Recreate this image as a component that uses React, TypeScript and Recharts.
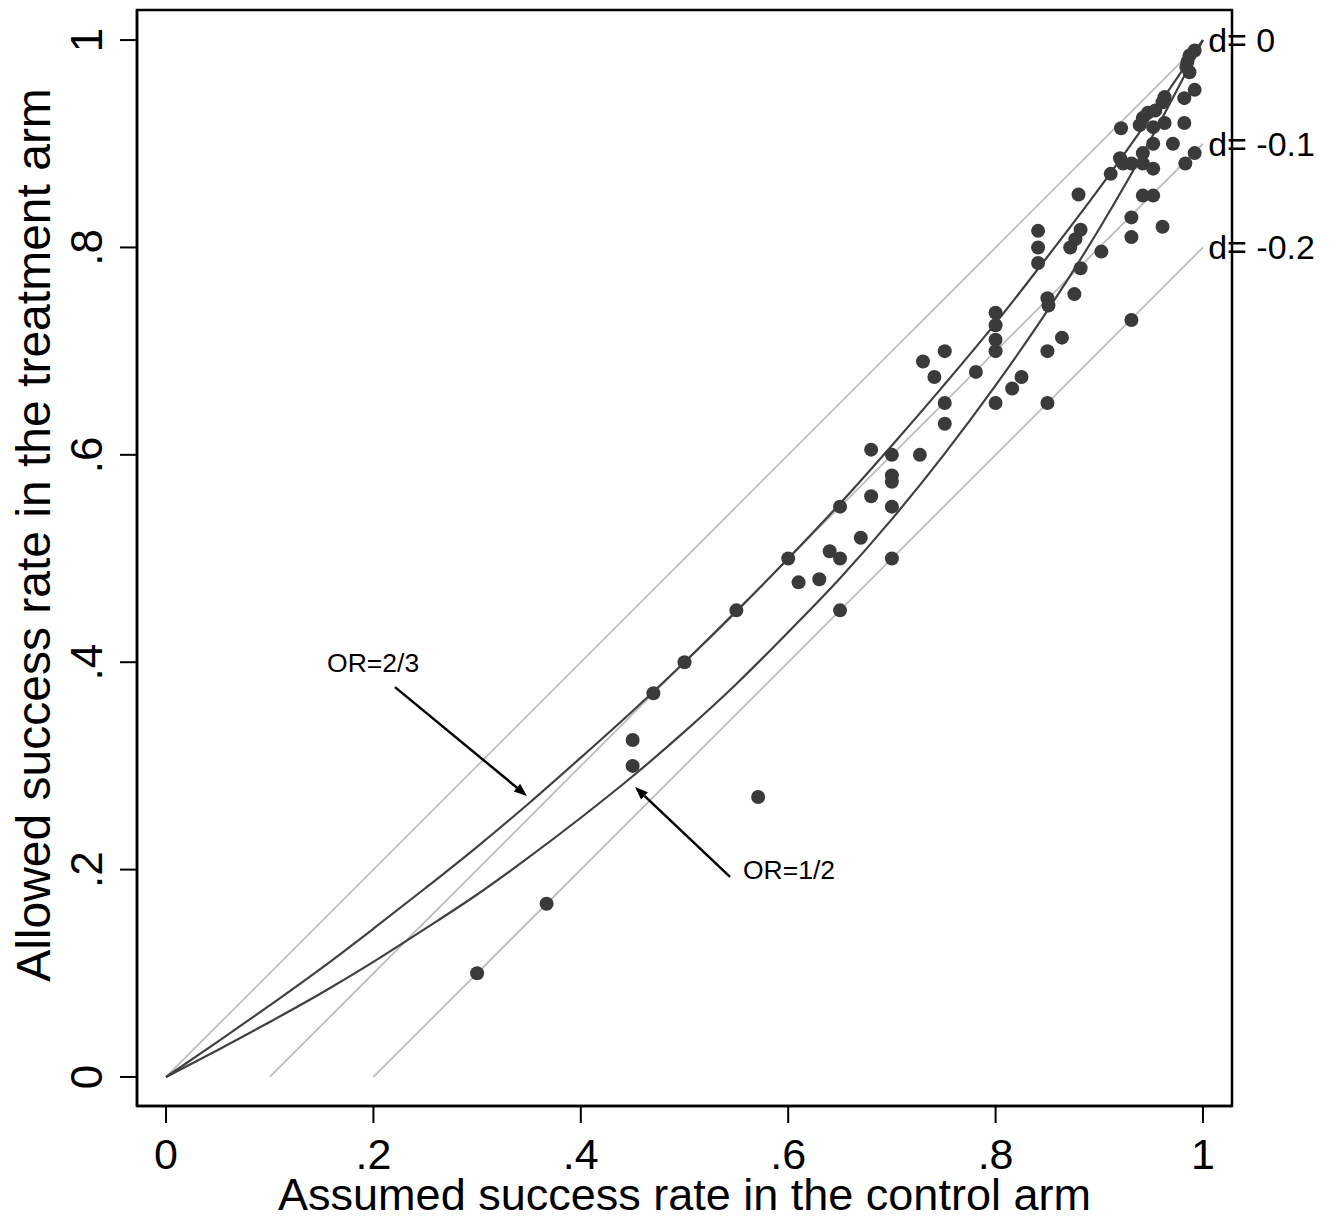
import React from "react";
import {
  ComposedChart,
  Line,
  Scatter,
  XAxis,
  YAxis,
  ReferenceLine,
  ReferenceDot,
  ReferenceArea,
} from "recharts";

// studies: assumed control rate vs allowed treatment rate
const controlRate = [
  0.3, 0.367, 0.45, 0.45, 0.47, 0.5, 0.55, 0.571, 0.6, 0.61, 0.63, 0.64, 0.65, 0.65, 0.65,
  0.67, 0.68, 0.68, 0.7, 0.7, 0.7, 0.7, 0.7, 0.727, 0.73, 0.741, 0.751, 0.751, 0.751, 0.781,
  0.8, 0.8, 0.8, 0.8, 0.8, 0.816, 0.825, 0.841, 0.841, 0.841, 0.85, 0.851, 0.85, 0.85, 0.864,
  0.872, 0.877, 0.876, 0.882, 0.88, 0.882, 0.902, 0.911, 0.921, 0.92, 0.923, 0.931, 0.931,
  0.931, 0.931, 0.939, 0.942, 0.947, 0.954, 0.963, 0.961, 0.952, 0.963, 0.942, 0.942, 0.942,
  0.952, 0.952, 0.952, 0.961, 0.971, 0.982, 0.983, 0.992, 0.992, 0.982, 0.992, 0.987, 0.985,
  0.984, 0.987,
];
const treatRate = [
  0.1, 0.167, 0.3, 0.325, 0.37, 0.4, 0.45, 0.27, 0.5, 0.477, 0.48, 0.507, 0.5, 0.55, 0.45,
  0.52, 0.56, 0.605, 0.6, 0.58, 0.574, 0.55, 0.5, 0.6, 0.69, 0.675, 0.7, 0.65, 0.63, 0.68,
  0.737, 0.725, 0.711, 0.7, 0.65, 0.664, 0.675, 0.816, 0.8, 0.785, 0.751, 0.744, 0.7, 0.65, 0.713,
  0.8, 0.808, 0.755, 0.817, 0.851, 0.78, 0.796, 0.871, 0.915, 0.886, 0.881, 0.73, 0.81,
  0.829, 0.881, 0.918, 0.925, 0.93, 0.932, 0.945, 0.94, 0.916, 0.92, 0.891, 0.881, 0.85,
  0.85, 0.876, 0.9, 0.82, 0.9, 0.92, 0.881, 0.891, 0.952, 0.944, 0.99, 0.985, 0.979,
  0.974, 0.969,
];

// OR curves read at steps of 0.05
const curveX = [
  0, 0.05, 0.1, 0.15, 0.2, 0.25, 0.3, 0.35, 0.4, 0.45, 0.5, 0.55, 0.6, 0.65, 0.7, 0.75, 0.8,
  0.85, 0.9, 0.95, 1,
];
const or23 = [
  0, 0.034, 0.069, 0.105, 0.143, 0.182, 0.222, 0.264, 0.308, 0.353, 0.4, 0.449, 0.5, 0.553,
  0.609, 0.667, 0.727, 0.791, 0.857, 0.927, 1,
];
const or12 = [
  0, 0.026, 0.053, 0.081, 0.111, 0.143, 0.176, 0.212, 0.25, 0.29, 0.333, 0.379, 0.429, 0.481,
  0.538, 0.6, 0.667, 0.739, 0.818, 0.905, 1,
];

// difference lines d = 0, -0.1, -0.2
const diffLabels = ["d= 0", "d= -0.1", "d= -0.2"];
const diffValues = [0, -0.1, -0.2];

const ticks = [0, 0.2, 0.4, 0.6, 0.8, 1];

const scatterData = controlRate.map((x, i) => ({ x, y: treatRate[i] }));
const or23Data = curveX.map((x, i) => ({ x, y: or23[i] }));
const or12Data = curveX.map((x, i) => ({ x, y: or12[i] }));

const FONT = "'Liberation Sans', Arial, Helvetica, sans-serif";

const fmt = (v: number) => (v === 0 ? "0" : v === 1 ? "1" : String(v).replace(/^0/, ""));

const XTick = (props: any) => {
  const { x, y, payload } = props;
  return (
    <text x={x} y={y + 44} textAnchor="middle" fontSize={43} fontFamily={FONT} fill="#000">
      {fmt(payload.value)}
    </text>
  );
};

const YTick = (props: any) => {
  const { x, y, payload } = props;
  const bx = x - 16;
  return (
    <text
      x={bx}
      y={y}
      textAnchor="middle"
      fontSize={44}
      fontFamily={FONT}
      fill="#000"
      transform={`rotate(-90, ${bx}, ${y})`}
    >
      {fmt(payload.value)}
    </text>
  );
};

const arrowShape = (props: any) => {
  const { x1, y1, x2, y2 } = props;
  const ang = Math.atan2(y2 - y1, x2 - x1);
  const len = 13;
  const half = 5;
  const bx = x2 - len * Math.cos(ang);
  const by = y2 - len * Math.sin(ang);
  const px = -Math.sin(ang) * half;
  const py = Math.cos(ang) * half;
  return (
    <g>
      <line x1={x1} y1={y1} x2={bx} y2={by} stroke="#000" strokeWidth={2.5} />
      <polygon
        points={`${x2},${y2} ${bx + px},${by + py} ${bx - px},${by - py}`}
        fill="#000"
      />
    </g>
  );
};

const textShape = (label: string, size: number, dy: number) => (props: any) => (
  <text x={props.cx} y={props.cy + dy} fontSize={size} fontFamily={FONT} fill="#000">
    {label}
  </text>
);

export default function App() {
  return (
    <div style={{ position: "absolute", left: 0, top: 0, background: "#fff" }}>
      <ComposedChart
        width={1336}
        height={1221}
        margin={{ top: 10, right: 104, bottom: 0, left: 0 }}
      >
        <XAxis
          type="number"
          dataKey="x"
          domain={[-0.028, 1.028]}
          ticks={ticks}
          tickSize={17}
          tickLine={{ stroke: "#000", strokeWidth: 2 }}
          axisLine={{ stroke: "#000", strokeWidth: 2.5 }}
          tick={<XTick />}
          height={115}
          allowDataOverflow
          label={{
            content: (p: any) => {
              const vb = p.viewBox || { x: 137, y: 1106, width: 1095 };
              return (
                <text
                  x={vb.x + vb.width / 2}
                  y={vb.y + 104}
                  textAnchor="middle"
                  fontSize={45}
                  fontFamily={FONT}
                  fill="#000"
                >
                  Assumed success rate in the control arm
                </text>
              );
            },
          }}
        />
        <YAxis
          type="number"
          dataKey="y"
          domain={[-0.028, 1.029]}
          ticks={ticks}
          tickSize={17}
          tickLine={{ stroke: "#000", strokeWidth: 2 }}
          axisLine={{ stroke: "#000", strokeWidth: 2.5 }}
          tick={<YTick />}
          width={137}
          allowDataOverflow
          label={{
            content: () => (
              <text
                x={50}
                y={535}
                textAnchor="middle"
                fontSize={48}
                fontFamily={FONT}
                fill="#000"
                transform="rotate(-90, 50, 535)"
              >
                Allowed success rate in the treatment arm
              </text>
            ),
          }}
        />
        <ReferenceArea
          x1={-0.028}
          x2={1.028}
          y1={-0.028}
          y2={1.029}
          fill="none"
          stroke="#000"
          strokeWidth={2.5}
          ifOverflow="visible"
        />
        {diffValues.map((d) => (
          <Line
            key={"d" + d}
            data={[
              { x: -d, y: 0 },
              { x: 1, y: 1 + d },
            ]}
            dataKey="y"
            type="linear"
            stroke="#bdbdbd"
            strokeWidth={1.8}
            dot={false}
            activeDot={false}
            isAnimationActive={false}
          />
        ))}
        <Line
          data={or23Data}
          dataKey="y"
          type="monotone"
          stroke="#404040"
          strokeWidth={2.2}
          dot={false}
          activeDot={false}
          isAnimationActive={false}
        />
        <Line
          data={or12Data}
          dataKey="y"
          type="monotone"
          stroke="#404040"
          strokeWidth={2.2}
          dot={false}
          activeDot={false}
          isAnimationActive={false}
        />
        <Scatter
          data={scatterData}
          dataKey="y"
          isAnimationActive={false}
          shape={(p: any) => <circle cx={p.cx} cy={p.cy} r={7} fill="#3a3a3a" />}
        />
        <ReferenceLine
          segment={[
            { x: 0.2208, y: 0.376 },
            { x: 0.3481, y: 0.271 },
          ]}
          ifOverflow="visible"
          shape={arrowShape}
        />
        <ReferenceLine
          segment={[
            { x: 0.5439, y: 0.1929 },
            { x: 0.4523, y: 0.2797 },
          ]}
          ifOverflow="visible"
          shape={arrowShape}
        />
        <ReferenceDot
          x={0.1553}
          y={0.3905}
          ifOverflow="visible"
          shape={textShape("OR=2/3", 26.5, 0)}
        />
        <ReferenceDot
          x={0.5564}
          y={0.191}
          ifOverflow="visible"
          shape={textShape("OR=1/2", 26.5, 0)}
        />
        {diffValues.map((d, i) => (
          <ReferenceDot
            key={"lab" + i}
            x={1.005}
            y={1 + d}
            ifOverflow="visible"
            shape={textShape(diffLabels[i], 34, 12)}
          />
        ))}
      </ComposedChart>
    </div>
  );
}
